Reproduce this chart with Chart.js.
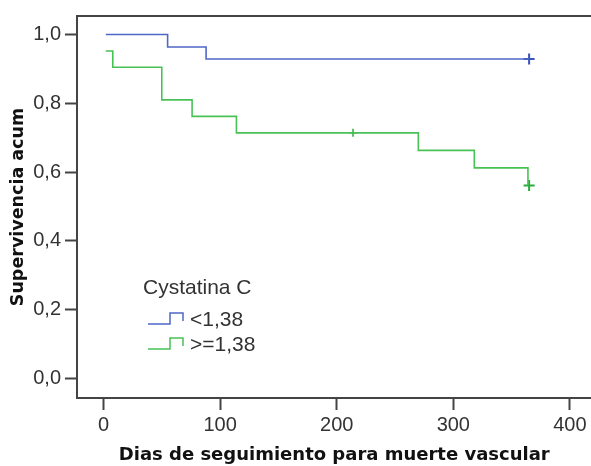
<!DOCTYPE html>
<html>
<head>
<meta charset="utf-8">
<script src="https://cdn.jsdelivr.net/npm/chart.js@4/dist/chart.umd.min.js"></script>
<style>
html, body { margin: 0; padding: 0; background: #fff; overflow: hidden; }
#wrap { width: 599px; height: 466px; }
</style>
</head>
<body>
<div id="wrap"><canvas id="km"></canvas></div>
<script>
// Kaplan-Meier, Cystatina C groups
let legendTitle = 'Cystatina C'
let groupNames = ['<1,38', '>=1,38']

let lowDays = [2, 55, 88, 365]
let lowSurv = [1.0, 0.964, 0.929, 0.929]
let lowCensDays = [365]
let lowCensSurv = [0.929]

let highDays = [2, 8, 50, 76, 114, 270, 318, 364]
let highSurv = [0.952, 0.905, 0.810, 0.762, 0.714, 0.663, 0.612, 0.561]
let highCensDays = [214, 365]
let highCensSurv = [0.714, 0.561]

let xTicks = [0, 100, 200, 300, 400]
let yTicks = [0, 0.2, 0.4, 0.6, 0.8, 1.0]

let xTitle = 'Dias de seguimiento para muerte vascular'
let yTitle = 'Supervivencia acum'

const blue = '#4f67c6'
const green = '#48c255'
const blueDark = '#3a52bb'
const greenDark = '#2caa3c'
const axisColor = '#444'
const sans = '"Liberation Sans", Arial, sans-serif'
const tickFont = { family: sans, size: 20 }
const titleFont = { family: '"DejaVu Sans", Verdana, sans-serif', size: 18, weight: 'bold' }

const pairs = (xs, ys) => xs.map((x, i) => ({ x: x, y: ys[i] }))

const fmt = v => v.toFixed(1).replace('.', ',')

// legend with little step icons, drawn inside the plot
const stepLegend = {
    id: 'stepLegend',
    afterDraw(chart) {
        let c = chart.ctx
        let a = chart.chartArea
        let x0 = a.left + 66
        let y0 = a.top + 272
        c.save()
        c.fillStyle = '#333'
        c.textBaseline = 'middle'
        c.font = '21px ' + sans
        c.fillText(legendTitle, x0, y0)
        let cols = [blue, green]
        groupNames.forEach((name, i) => {
            let yb = y0 + 36 + i * 25
            c.strokeStyle = cols[i]
            c.lineWidth = 1.5
            c.beginPath()
            c.moveTo(x0 + 5, yb)
            c.lineTo(x0 + 27, yb)
            c.lineTo(x0 + 27, yb - 11)
            c.lineTo(x0 + 40, yb - 11)
            c.lineTo(x0 + 40, yb - 3)
            c.stroke()
            c.fillStyle = '#333'
            c.fillText(name, x0 + 47, yb - 4)
        })
        c.restore()
    }
}

let ctx = document.getElementById('km').getContext('2d')

let chart = new Chart(ctx, {
    type: 'line',
    data: {
        datasets: [
            {
                label: groupNames[0],
                data: pairs(lowDays, lowSurv),
                borderColor: blue,
                borderWidth: 1.6,
                stepped: true,
                pointRadius: 0,
                fill: false
            },
            {
                label: groupNames[1],
                data: pairs(highDays, highSurv),
                borderColor: green,
                borderWidth: 1.6,
                stepped: true,
                pointRadius: 0,
                fill: false
            },
            {
                label: groupNames[0] + ' censored',
                data: pairs(lowCensDays, lowCensSurv),
                showLine: false,
                pointStyle: 'cross',
                pointRadius: 5.5,
                pointBorderWidth: 2,
                borderColor: blueDark
            },
            {
                label: groupNames[1] + ' censored',
                data: pairs(highCensDays, highCensSurv),
                showLine: false,
                pointStyle: 'cross',
                pointRadius: c => c.dataIndex === highCensDays.length - 1 ? 5.5 : 4,
                pointBorderWidth: c => c.dataIndex === highCensDays.length - 1 ? 2 : 1.5,
                borderColor: greenDark
            }
        ]
    },
    options: {
        responsive: true,
        maintainAspectRatio: false,
        animation: false,
        layout: { padding: 0 },
        plugins: {
            legend: { display: false },
            tooltip: { enabled: false }
        },
        scales: {
            x: {
                type: 'linear',
                position: 'bottom',
                min: -22.7,
                max: 418.5,
                afterBuildTicks: s => { s.ticks = xTicks.map(v => ({ value: v })) },
                afterFit: s => { s.height = 68 },
                border: { color: axisColor, width: 2 },
                grid: { drawOnChartArea: false, tickLength: 12, tickColor: axisColor, tickWidth: 2 },
                ticks: { font: tickFont, color: '#333', padding: 3, maxRotation: 0 },
                title: { display: true, text: xTitle, font: titleFont, color: '#111', padding: { top: 0, bottom: 0 } }
            },
            xTop: {
                type: 'linear',
                position: 'top',
                min: -22.7,
                max: 418.5,
                afterFit: s => { s.height = 13 },
                border: { color: axisColor, width: 2 },
                grid: { display: false, drawTicks: false },
                ticks: { display: false }
            },
            y: {
                type: 'linear',
                min: -0.0577,
                max: 1.054,
                afterBuildTicks: s => { s.ticks = yTicks.map(v => ({ value: v })) },
                afterFit: s => { s.width = 77 },
                border: { color: axisColor, width: 2 },
                grid: { drawOnChartArea: false, tickLength: 12, tickColor: axisColor, tickWidth: 2 },
                ticks: { font: tickFont, color: '#333', padding: 4, callback: v => fmt(v) },
                title: { display: true, text: yTitle, font: { family: titleFont.family, size: 17.5, weight: 'bold' }, color: '#111', padding: { top: 7.5, bottom: 0 } }
            }
        }
    },
    plugins: [stepLegend]
})
</script>
</body>
</html>
